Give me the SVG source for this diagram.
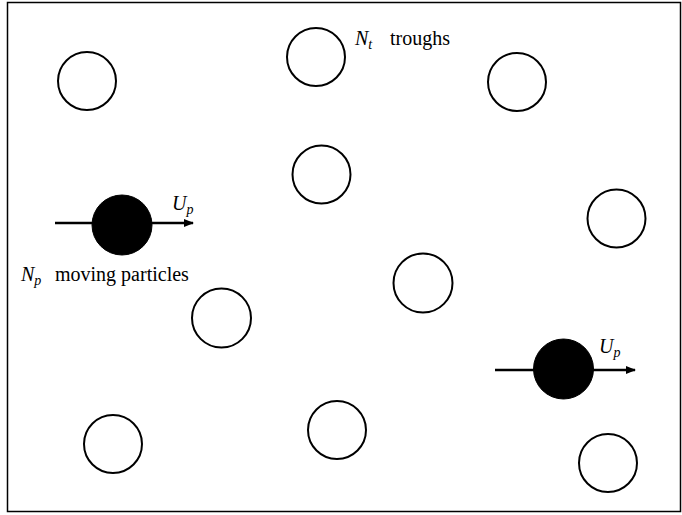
<svg xmlns="http://www.w3.org/2000/svg" width="682" height="515" viewBox="0 0 682 515">
<style>
.t{fill:#fff;stroke:#000;stroke-width:2}
.p{fill:#000;stroke:#000;stroke-width:1}
.c{stroke:#000;stroke-width:2.5;fill:none}
text{font-family:"Liberation Serif","Times New Roman",serif;font-size:20px;fill:#000}
.i{font-style:italic}
.s{font-style:italic;font-size:14px}
</style>
<defs>
<marker id="ah" markerWidth="10" markerHeight="8" refX="9" refY="4" orient="auto" markerUnits="userSpaceOnUse">
<path d="M0,0 L10,4 L0,8 Z" fill="#000"/>
</marker>
</defs>
<rect x="7.5" y="2.5" width="673" height="509" fill="#fff" stroke="#000" stroke-width="1.5"/>
<g id="connectors">
<line class="c" x1="55" y1="223" x2="193" y2="223" marker-end="url(#ah)"/>
<line class="c" x1="495" y1="370" x2="635" y2="370" marker-end="url(#ah)"/>
</g>
<g id="trough1"><circle class="t" cx="87" cy="81" r="29"/></g>
<g id="trough2"><circle class="t" cx="316" cy="57" r="29"/></g>
<g id="trough3"><circle class="t" cx="517" cy="82" r="29"/></g>
<g id="trough4"><circle class="t" cx="321.5" cy="174.5" r="29"/></g>
<g id="trough5"><circle class="t" cx="616.5" cy="218.5" r="29"/></g>
<g id="trough6"><circle class="t" cx="423" cy="283" r="29.5"/></g>
<g id="trough7"><circle class="t" cx="221.5" cy="318" r="29.5"/></g>
<g id="trough8"><circle class="t" cx="113" cy="444" r="29"/></g>
<g id="trough9"><circle class="t" cx="337" cy="430" r="29"/></g>
<g id="trough10"><circle class="t" cx="608" cy="463" r="29"/></g>
<g id="particle1"><circle class="p" cx="122" cy="225" r="30"/></g>
<g id="particle2"><circle class="p" cx="563.5" cy="369" r="30"/></g>
<g id="labels">
<text x="355" y="45"><tspan class="i">N</tspan><tspan class="s" dy="4">t</tspan><tspan dy="-4" x="390">troughs</tspan></text>
<text x="21" y="281"><tspan class="i">N</tspan><tspan class="s" dy="4">p</tspan><tspan dy="-4" x="55">moving particles</tspan></text>
<text x="172" y="210"><tspan class="i">U</tspan><tspan class="s" dy="4">p</tspan></text>
<text x="599" y="353"><tspan class="i">U</tspan><tspan class="s" dy="4">p</tspan></text>
</g>
</svg>
